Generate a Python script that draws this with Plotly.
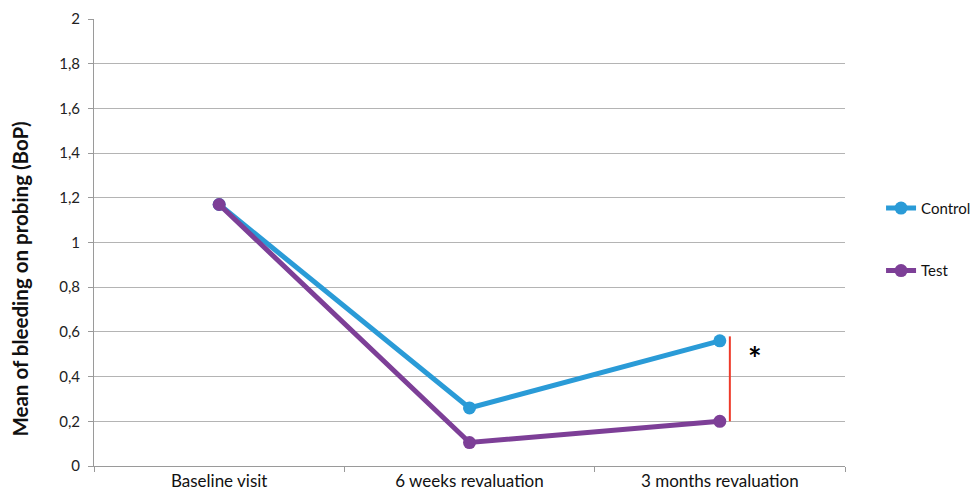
import plotly.graph_objects as go

categories = ["Baseline visit", "6 weeks revaluation", "3 months revaluation"]
control = [1.17, 0.26, 0.56]
test = [1.17, 0.105, 0.2]
y_ticks = [0, 0.2, 0.4, 0.6, 0.8, 1, 1.2, 1.4, 1.6, 1.8, 2]
y_tick_labels = ["0", "0,2", "0,4", "0,6", "0,8", "1", "1,2", "1,4", "1,6", "1,8", "2"]
sig_range = [0.2, 0.58]

font_family = "Lato, Open Sans, sans-serif"

fig = go.Figure()
fig.add_trace(go.Scatter(
    x=categories, y=control, name="Control", mode="lines+markers",
    line=dict(color="#2a9bd7", width=5), marker=dict(size=13, color="#2a9bd7"),
    legendgroup="c"))
fig.add_trace(go.Scatter(
    x=categories, y=test, name="Test", mode="lines+markers",
    line=dict(color="#7d3f97", width=5), marker=dict(size=13, color="#7d3f97"),
    legendgroup="t"))

fig.add_shape(type="line", xref="x", yref="y", x0=2.04, x1=2.04,
              y0=sig_range[0], y1=sig_range[1], line=dict(color="#ee3a2a", width=2))
fig.add_annotation(x=2.14, y=0.48, xref="x", yref="y", text="<b>*</b>",
                   showarrow=False, font=dict(size=32, color="black", family=font_family))

# y-axis title as a rotated annotation (sits slightly below the plot centre, as in the source)
fig.add_annotation(x=-0.098, y=0.418, xref="paper", yref="paper",
                   text="<b>Mean of bleeding on probing (BoP)</b>", textangle=-90,
                   showarrow=False, xanchor="center", yanchor="middle",
                   font=dict(size=20.5, color="#111", family=font_family))

# page body has an 8px margin, so the figure is shifted by 8px; compensate
fig.update_layout(
    width=978, height=497,
    margin=dict(l=86, r=141, t=11, b=39, autoexpand=False),
    paper_bgcolor="white", plot_bgcolor="white",
    font=dict(family=font_family, size=14, color="#222"),
    showlegend=True,
    legend=dict(x=1.048, y=0.507, xanchor="left", yanchor="middle",
                font=dict(size=15, color="#111"), tracegroupgap=40,
                itemwidth=30, bgcolor="rgba(0,0,0,0)"),
)
fig.update_xaxes(
    type="category", range=[-0.5, 2.5], showgrid=False, automargin=False,
    showline=True, linecolor="#9a9a9a", linewidth=1,
    ticks="outside", tickson="boundaries", ticklen=5, tickcolor="#9a9a9a",
    tickfont=dict(size=17, color="#111"))
fig.update_yaxes(
    range=[0, 2], tickvals=y_ticks, ticktext=y_tick_labels, automargin=False,
    showgrid=True, gridcolor="#b4b4b4", gridwidth=1,
    showline=True, linecolor="#9a9a9a", linewidth=1,
    ticks="outside", ticklen=5, tickcolor="#9a9a9a", ticklabelstandoff=5,
    zeroline=False, tickfont=dict(size=15, color="#222"))

fig.write_html("out.html")
